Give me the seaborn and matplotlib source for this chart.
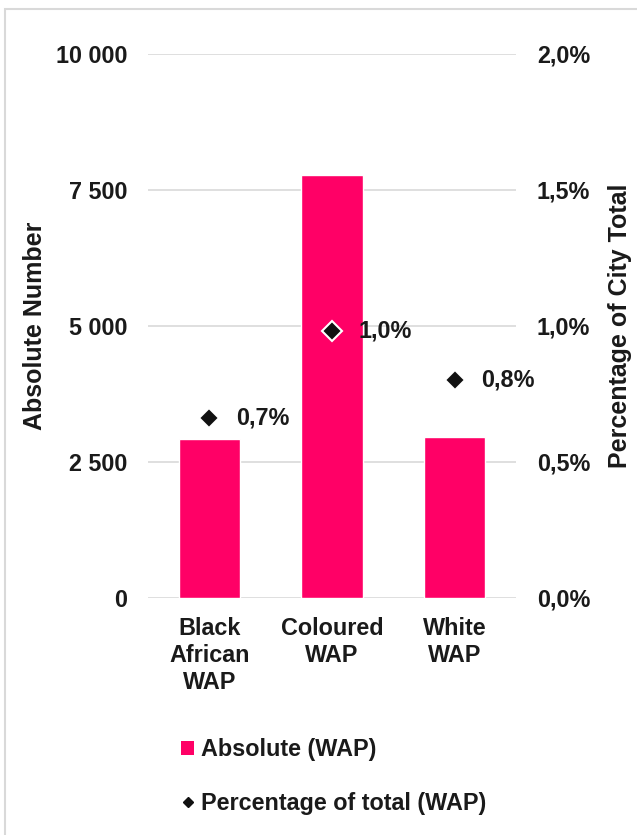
import matplotlib
matplotlib.use("Agg")
import matplotlib.pyplot as plt
from matplotlib.lines import Line2D
from matplotlib.patches import Patch, Rectangle
from matplotlib.ticker import FuncFormatter, MultipleLocator
import seaborn as sns
import pandas as pd

# Working-age population (WAP) by group
categories = ["Black\nAfrican\nWAP", "Coloured\nWAP", "White\nWAP"]
absolute_wap = [2920, 7780, 2960]
pct_of_city = [0.66, 0.98, 0.80]

bar_color = "#FF0066"
grid_color = "#D9D9D9"
text_color = "#1A1A1A"
tick_size = 16.8

sns.set_theme(style="white")
plt.rcParams["font.family"] = ["Liberation Sans", "DejaVu Sans"]
plt.rcParams["font.weight"] = "bold"

df = pd.DataFrame({"group": categories, "absolute": absolute_wap, "pct": pct_of_city})

fig = plt.figure(figsize=(6.37, 8.35), dpi=100)
ax = fig.add_axes([148 / 637, 1 - 598 / 835, (516 - 148) / 637, (598 - 54) / 835])

sns.barplot(data=df, x="group", y="absolute", color=bar_color, width=0.5,
            saturation=1, ax=ax, zorder=2)
ax.set_ylim(0, 10000)
ax.yaxis.set_major_locator(MultipleLocator(2500))
ax.yaxis.set_major_formatter(FuncFormatter(lambda v, p: f"{int(v):,}".replace(",", " ")))
ax.grid(axis="y", color=grid_color, linewidth=1.2, zorder=0)
ax.set_axisbelow(True)
for s in ax.spines.values():
    s.set_visible(False)
ax.tick_params(axis="both", length=0, labelsize=tick_size, colors=text_color)
ax.tick_params(axis="y", pad=15)
ax.tick_params(axis="x", pad=14)
for lab in ax.get_xticklabels() + ax.get_yticklabels():
    lab.set_fontweight("bold")
for lab in ax.get_xticklabels():
    lab.set_linespacing(1.22)
ax.set_xlabel("")
ax.set_ylabel("Absolute Number", fontsize=18, fontweight="bold", color=text_color, labelpad=6)

ax2 = ax.twinx()
sns.pointplot(data=df, x="group", y="pct", ax=ax2, linestyle="none", markers="D",
              color="#111111", markersize=10, markeredgecolor="white", markeredgewidth=1.5,
              errorbar=None, zorder=5)
ax2.set_ylim(0, 2.0)
ax2.yaxis.set_major_locator(MultipleLocator(0.5))
ax2.yaxis.set_major_formatter(FuncFormatter(lambda v, p: f"{v:.1f}%".replace(".", ",")))
for s in ax2.spines.values():
    s.set_visible(False)
ax2.tick_params(axis="y", length=0, labelsize=tick_size, colors=text_color, pad=15)
for lab in ax2.get_yticklabels():
    lab.set_fontweight("bold")
ax2.set_ylabel("Percentage of City Total", fontsize=18, fontweight="bold", color=text_color,
               labelpad=13)
ax2.set_xlabel("")
ax2.grid(False)

for i, v in enumerate(pct_of_city):
    ax2.annotate(f"{v:.1f}%".replace(".", ","), (i, v), xytext=(19, 0),
                 textcoords="offset points", va="center", ha="left",
                 fontsize=tick_size, fontweight="bold", color=text_color)

handles = [
    Patch(facecolor=bar_color, edgecolor="none", label="Absolute (WAP)"),
    Line2D([], [], marker="D", linestyle="none", color="#111111", markersize=5,
           label="Percentage of total (WAP)"),
]
leg = fig.legend(handles=handles, loc="upper left", bbox_to_anchor=(172 / 637, 1 - 729 / 835),
                 frameon=False, fontsize=tick_size, labelspacing=1.3, handlelength=0.55,
                 handleheight=0.55, handletextpad=0.3, borderaxespad=0)
for t in leg.get_texts():
    t.set_fontweight("bold")
    t.set_color(text_color)

# light frame around the chart area
fig.patches.append(Rectangle((5 / 637, -0.05), 1.2, 1 - 9 / 835 + 0.05, transform=fig.transFigure,
                             fill=False, edgecolor="#D9D9D9", linewidth=1.5, zorder=-1))

fig.savefig("out.png", dpi=100)
